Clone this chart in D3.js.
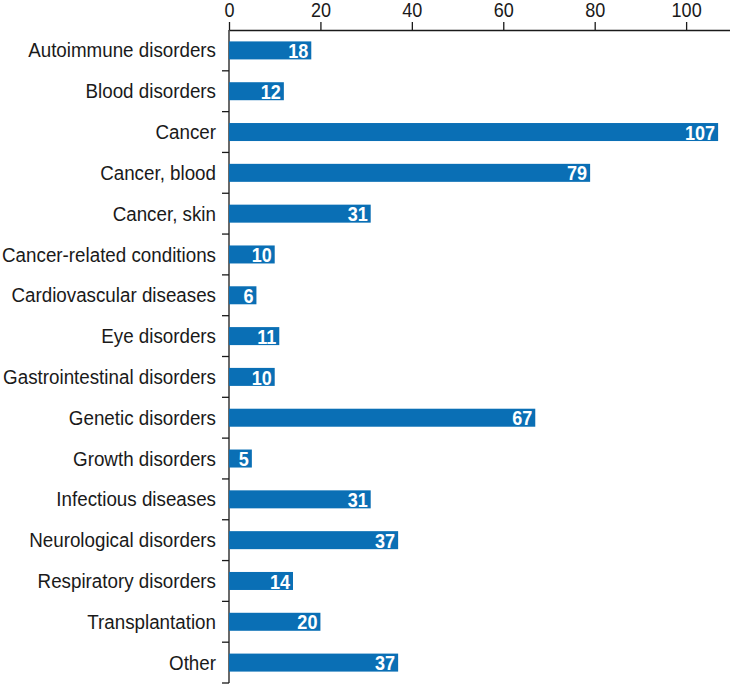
<!DOCTYPE html>
<html><head><meta charset="utf-8">
<script src="https://cdn.jsdelivr.net/npm/d3@7/dist/d3.min.js"></script>
<style>
body{margin:0;background:#fff;}
svg{display:block;font-family:"Liberation Sans",Arial,sans-serif;}
</style></head><body>
<svg id="c" width="730" height="684"></svg>
<script>
const categories = ["Autoimmune disorders","Blood disorders","Cancer","Cancer, blood","Cancer, skin","Cancer-related conditions","Cardiovascular diseases","Eye disorders","Gastrointestinal disorders","Genetic disorders","Growth disorders","Infectious diseases","Neurological disorders","Respiratory disorders","Transplantation","Other"];
const values = [18,12,107,79,31,10,6,11,10,67,5,31,37,14,20,37];
const tickValues = [0,20,40,60,80,100];

const SX = 0.88, SXC = 0.895;
const svg = d3.select("#c");
const x = d3.scaleLinear().domain([0,109.6]).range([229,730]);
const y = d3.scaleBand().domain(categories).range([30,683]).paddingInner(0).paddingOuter(0);
const barH = 18;
const color = "#0a6fb5";
const ink = "#1a1a1a";

// top axis
const xa = svg.append("g").attr("transform","translate(0,30)")
  .call(d3.axisTop(x).tickValues(tickValues).tickSize(8).tickPadding(5).tickSizeOuter(0));
xa.select(".domain").attr("stroke",ink).attr("stroke-width",1.3);
xa.selectAll(".tick line").attr("stroke",ink).attr("stroke-width",1.3);
xa.selectAll(".tick text").attr("font-size",20.5).attr("fill",ink)
  .attr("font-family","Liberation Sans").attr("transform",`scale(${SX},1)`);

// left axis line
svg.append("line").attr("x1",229).attr("x2",229).attr("y1",30).attr("y2",683)
  .attr("stroke",ink).attr("stroke-width",1.3);
// ticks between categories
const bounds = categories.map(c=>y(c)).slice(1).concat([683]);
svg.selectAll("line.yt").data(bounds).join("line").attr("class","yt")
  .attr("x1",222).attr("x2",229).attr("y1",d=>d).attr("y2",d=>d)
  .attr("stroke",ink).attr("stroke-width",1.3);

// category labels
svg.selectAll("text.cat").data(categories).join("text").attr("class","cat")
  .attr("transform",c=>`translate(216,${y(c)+y.bandwidth()/2-0.5}) scale(${SXC},1)`)
  .attr("dy","0.36em")
  .attr("text-anchor","end").attr("font-size",21).attr("fill",ink).text(c=>c);

// bars
svg.selectAll("rect.bar").data(values).join("rect").attr("class","bar")
  .attr("x",x(0)).attr("y",(v,i)=>y(categories[i])+y.bandwidth()/2-barH/2)
  .attr("width",v=>x(v)-x(0)).attr("height",barH).attr("fill",color);

// value labels
svg.selectAll("text.val").data(values).join("text").attr("class","val")
  .attr("transform",(v,i)=>`translate(${x(v)-3},${y(categories[i])+y.bandwidth()/2}) scale(${SX},1)`)
  .attr("dy","0.37em")
  .attr("text-anchor","end").attr("font-size",20.5).attr("font-weight","bold").attr("fill","#fff").text(v=>v);
</script></body></html>
